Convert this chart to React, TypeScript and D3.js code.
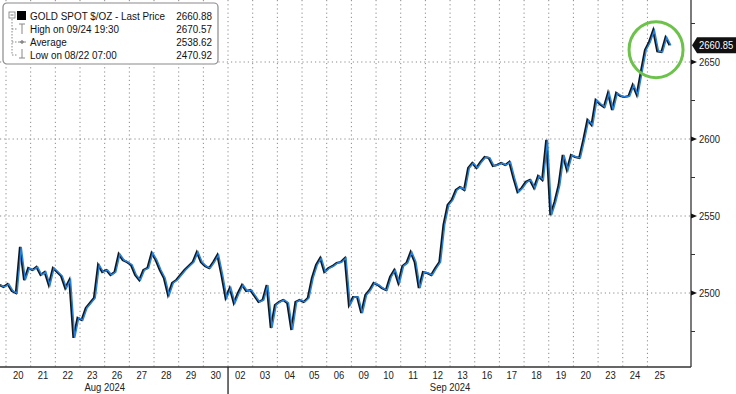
import React from "react";
import * as d3 from "d3";

const dayLabels = ["20","21","22","23","26","27","28","29","30","02","03","04","05","06","09","10","11","12","13","16","17","18","19","20","23","24","25"];
const monthLabels = ["Aug 2024", "Sep 2024"];
const monthCenters = [4, 18];
const monthBreak = 9;
const yMajor = [2500, 2550, 2600, 2650];
const yMinor = [2475, 2525, 2575, 2625, 2675];
const startOffset = -0.25;
const pointsPerDay = 6;

const prices = [
  2505.2,2503.9,2505.8,2501.3,2500.0,2529.9,2508.4,2516.2,2514.9,2516.9,
  2511.7,2513.6,2505.2,2516.2,2513.6,2511.0,2503.2,2508.4,2470.9,2483.8,
  2482.5,2490.3,2493.5,2496.8,2518.2,2513.6,2514.9,2511.7,2513.6,2525.3,
  2521.4,2520.1,2518.2,2511.7,2508.4,2514.9,2516.2,2526.0,2521.4,2514.9,
  2509.7,2498.7,2506.5,2508.4,2511.7,2514.9,2517.5,2520.1,2526.6,2520.1,
  2517.5,2516.2,2520.1,2524.7,2511.7,2496.8,2503.2,2493.5,2500.0,2505.2,
  2501.3,2501.9,2498.1,2494.2,2495.5,2505.2,2477.3,2492.2,2494.2,2495.5,
  2493.5,2476.0,2494.2,2495.5,2494.2,2496.8,2509.7,2518.2,2522.7,2513.6,
  2516.2,2517.5,2519.5,2520.1,2522.7,2492.2,2497.4,2497.4,2487.0,2498.7,
  2501.9,2506.5,2505.2,2503.2,2501.9,2510.4,2514.9,2506.5,2517.5,2519.5,
  2526.6,2520.1,2503.2,2513.6,2513.0,2511.7,2516.2,2520.1,2544.2,2557.1,
  2560.4,2566.9,2568.8,2566.9,2581.2,2584.4,2581.2,2585.1,2588.3,2587.7,
  2582.5,2583.1,2584.4,2583.1,2585.1,2574.7,2565.6,2568.2,2572.1,2573.4,
  2568.2,2576.0,2573.4,2599.4,2550.6,2559.1,2570.1,2589.6,2579.9,2589.6,
  2588.3,2587.7,2599.4,2612.3,2609.1,2625.3,2622.7,2620.8,2629.9,2618.8,
  2629.9,2627.9,2627.3,2627.9,2635.1,2628.6,2643.5,2657.8,2663.0,2670.6,
  2657.0,2656.5,2666.0,2660.85
];

const legendRows = [
  { label: "GOLD SPOT $/OZ - Last Price", value: "2660.88" },
  { label: "High on 09/24 19:30", value: "2670.57" },
  { label: "Average", value: "2538.62" },
  { label: "Low on 08/22 07:00", value: "2470.92" },
];
const lastPrice = 2660.85;

const W = 736, H = 394;
const plotRight = 691, plotBottom = 367;
const FONT = "'Liberation Sans', Arial, sans-serif";
const SX = 0.86;

function T(props: { x: number; y: number; anchor?: string; fill?: string; size?: number; children: React.ReactNode }) {
  const { x, y, anchor = "start", fill = "#222", size = 11, children } = props;
  return (
    <text transform={`translate(${x},${y}) scale(${SX},1)`} dy="0.36em" fontSize={size} textAnchor={anchor} fill={fill}>
      {children}
    </text>
  );
}

export default function App() {
  const x = d3.scaleLinear().domain([0, dayLabels.length]).range([6, 6 + 24.67 * dayLabels.length]);
  const y = d3.scaleLinear().domain([2500, 2650]).range([293, 62]);
  const t = (i: number) => startOffset + i / pointsPerDay;

  const line = d3.line<number>().x((_, i) => x(t(i)) - 0.4).y((d) => y(d));
  const blueLine = d3.line<number>().x((_, i) => x(t(i)) + 0.8).y((d) => y(d));

  const gridDays = d3.range(0, dayLabels.length);
  const ly = y(lastPrice);

  return (
    <svg width={W} height={H} style={{ position: "absolute", left: 0, top: 0, background: "#fff" }} fontFamily={FONT}>
      {gridDays.map((k) => (
        <line key={"vg" + k} x1={x(k)} x2={x(k)} y1={0} y2={plotBottom} stroke="#8a8a8a" strokeWidth={1} strokeDasharray="1.2,3" />
      ))}
      {yMajor.map((v) => (
        <line key={"hg" + v} x1={0} x2={plotRight} y1={y(v)} y2={y(v)} stroke="#8a8a8a" strokeWidth={1} strokeDasharray="1.2,3" />
      ))}

      <path d={line(prices) || ""} fill="none" stroke="#161616" strokeWidth={2.2} />
      <path d={blueLine(prices) || ""} fill="none" stroke="#2680dc" strokeWidth={1.5} />

      <line x1={plotRight} x2={plotRight} y1={0} y2={plotBottom} stroke="#333" strokeWidth={1.3} />
      <line x1={0} x2={plotRight} y1={plotBottom} y2={plotBottom} stroke="#333" strokeWidth={1.3} />
      <line x1={x(monthBreak)} x2={x(monthBreak)} y1={plotBottom} y2={H} stroke="#222" strokeWidth={1.3} />

      {yMinor.map((v) => (
        <line key={"mt" + v} x1={plotRight} x2={plotRight + 4} y1={y(v)} y2={y(v)} stroke="#333" strokeWidth={1} />
      ))}
      {yMajor.map((v) => (
        <g key={"yt" + v}>
          <path d={`M${plotRight},${y(v) - 2.5}L${plotRight + 6},${y(v)}L${plotRight},${y(v) + 2.5}Z`} fill="#111" />
          <T x={plotRight + 8} y={y(v)}>{v}</T>
        </g>
      ))}

      {dayLabels.map((d, k) => (
        <T key={"dl" + k} x={x(k + 0.5)} y={375} anchor="middle">{d}</T>
      ))}
      {monthLabels.map((m, i) => (
        <T key={"ml" + i} x={x(monthCenters[i])} y={387.5} anchor="middle">{m}</T>
      ))}

      <path d={`M${plotRight + 1},${ly}L${plotRight + 6},${ly - 8}L${W},${ly - 8}L${W},${ly + 8}L${plotRight + 6},${ly + 8}Z`} fill="#111" />
      <T x={plotRight + 8} y={ly} fill="#fff">{lastPrice.toFixed(2)}</T>

      <ellipse cx={x(26.35)} cy={y(2658)} rx={27} ry={28} fill="none" stroke="#6cc24a" strokeWidth={3} />

      <rect x={3} y={3} width={215} height={61} rx={4} fill="#fff" stroke="#8a8a8a" strokeWidth={1.2} />
      <g stroke="#888" strokeWidth={1} strokeDasharray="1.5,1.5" fill="none">
        <line x1={12} x2={12} y1={19} y2={55} />
        <line x1={12} x2={17} y1={29} y2={29} />
        <line x1={12} x2={17} y1={42} y2={42} />
        <line x1={12} x2={17} y1={55} y2={55} />
      </g>
      <rect x={9} y={12} width={6} height={6} fill="#fff" stroke="#777" strokeWidth={0.8} />
      <line x1={10.5} x2={13.5} y1={15} y2={15} stroke="#555" strokeWidth={0.8} />
      <rect x={17} y={11} width={9} height={9} fill="#000" />
      <g stroke="#888" strokeWidth={1} fill="none">
        <line x1={19} x2={25} y1={24} y2={24} />
        <line x1={22} x2={22} y1={24} y2={34} />
        <line x1={18} x2={26} y1={42} y2={42} />
        <circle cx={22} cy={42} r={1.3} fill="#888" />
        <line x1={22} x2={22} y1={49} y2={58} />
        <line x1={19} x2={25} y1={58} y2={58} />
      </g>
      {legendRows.map((r, i) => (
        <g key={"lg" + i}>
          <T x={30} y={15.5 + i * 13} fill="#111" size={11.5}>{r.label}</T>
          <T x={212} y={15.5 + i * 13} fill="#111" size={11.5} anchor="end">{r.value}</T>
        </g>
      ))}
    </svg>
  );
}
